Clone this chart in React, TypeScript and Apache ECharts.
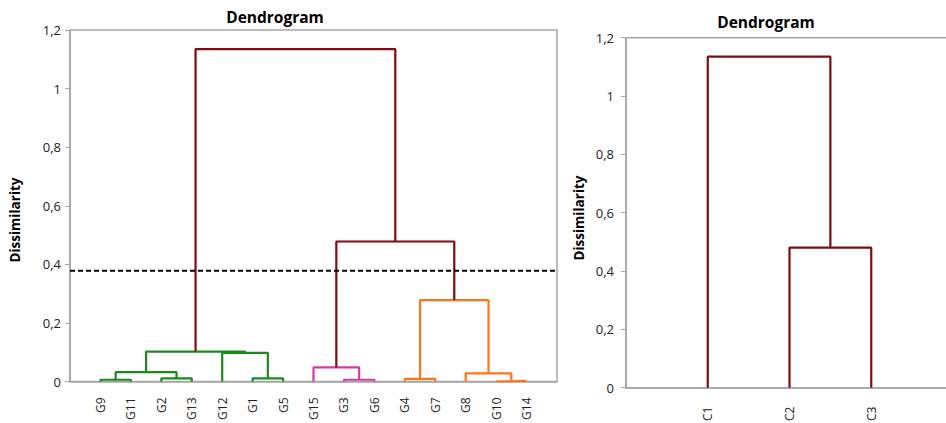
import React, { useEffect, useRef } from "react";
import * as echarts from "echarts";

// Left dendrogram (15 objects)
const leftLeaves = ["G9", "G11", "G2", "G13", "G12", "G1", "G5", "G15", "G3", "G6", "G4", "G7", "G8", "G10", "G14"];
// merge children: ids < 15 are leaves (by index), ids >= 15 are merges (15 + merge index)
const leftMergeA = [0, 2, 15, 5, 4, 17, 8, 7, 10, 13, 12, 23, 22, 20];
const leftMergeB = [1, 3, 16, 6, 18, 19, 9, 21, 11, 14, 24, 25, 26, 27];
const leftMergeHeight = [0.006, 0.011, 0.032, 0.011, 0.098, 0.102, 0.006, 0.048, 0.009, 0.002, 0.028, 0.278, 0.478, 1.135];
const leftMergeGroup = ["g", "g", "g", "g", "g", "g", "p", "p", "o", "o", "o", "o", "r", "r"];
const truncation = 0.378;

// Right dendrogram (3 classes)
const rightLeaves = ["C1", "C2", "C3"];
const rightMergeA = [1, 0];
const rightMergeB = [2, 3];
const rightMergeHeight = [0.48, 1.135];
const rightMergeGroup = ["r", "r"];

const yTicks = [0, 0.2, 0.4, 0.6, 0.8, 1, 1.2];

const groupColors: Record<string, string> = {
  g: "#1B8A1B",
  p: "#D33AA6",
  o: "#FF7417",
  r: "#7E0C12",
};

function buildSegments(nLeaves: number, A: number[], B: number[], H: number[], G: string[], axisIndex: number) {
  const xs: number[] = [];
  const hs: number[] = [];
  for (let i = 0; i < nLeaves; i++) {
    xs.push(i + 1);
    hs.push(0);
  }
  const series: any[] = [];
  for (let m = 0; m < A.length; m++) {
    const a = A[m];
    const b = B[m];
    const h = H[m];
    series.push({
      type: "line",
      xAxisIndex: axisIndex,
      yAxisIndex: axisIndex,
      symbol: "none",
      silent: true,
      lineStyle: { color: groupColors[G[m]], width: 2.2 },
      data: [
        [xs[a], hs[a]],
        [xs[a], h],
        [xs[b], h],
        [xs[b], hs[b]],
      ],
    });
    xs.push((xs[a] + xs[b]) / 2);
    hs.push(h);
  }
  return series;
}

const fmtY = (v: number) => String(+v.toFixed(1)).replace(".", ",");

export default function App() {
  const ref = useRef<HTMLDivElement>(null);
  useEffect(() => {
    if (!ref.current) return;
    const chart = echarts.init(ref.current, undefined, { renderer: "svg" });
    const font = "Open Sans";
    const leftSeries = buildSegments(leftLeaves.length, leftMergeA, leftMergeB, leftMergeHeight, leftMergeGroup, 0);
    const rightSeries = buildSegments(rightLeaves.length, rightMergeA, rightMergeB, rightMergeHeight, rightMergeGroup, 1);
    const yAxisCommon = {
      type: "value",
      min: yTicks[0],
      max: yTicks[yTicks.length - 1],
      interval: 0.2,
      axisLine: { show: true, lineStyle: { color: "#A6A6A6", width: 1.5 } },
      axisTick: { show: true, length: 5, lineStyle: { color: "#A6A6A6" } },
      splitLine: { show: false },
      axisLabel: { formatter: fmtY, color: "#222", fontFamily: font, fontSize: 13, margin: 9 },
    };
    const titleStyle = { fontFamily: font, fontWeight: "bold", fontSize: 15.5, color: "#000" };
    chart.setOption({
      animation: false,
      textStyle: { fontFamily: font },
      title: [
        { text: "Dendrogram", left: 270, top: 4, textAlign: "center", textStyle: titleStyle },
        { text: "Dendrogram", left: 761, top: 9, textAlign: "center", textStyle: titleStyle },
      ],
      grid: [
        { left: 70, top: 30, width: 487, height: 351.5, outerBoundsMode: "none", show: true, borderColor: "#A6A6A6", borderWidth: 1.5, backgroundColor: "transparent" },
        { left: 626, top: 37.7, width: 327, height: 350, outerBoundsMode: "none", show: true, borderColor: "#A6A6A6", borderWidth: 1.5, backgroundColor: "transparent" },
      ],
      xAxis: [
        {
          type: "value",
          gridIndex: 0,
          min: 0,
          max: leftLeaves.length + 1,
          interval: 1,
          axisLine: { show: true, lineStyle: { color: "#A6A6A6", width: 1.5 } },
          axisTick: { show: false },
          splitLine: { show: false },
          axisLabel: {
            rotate: 90,
            margin: 16,
            fontFamily: font,
            fontSize: 12,
            color: "#222",
            formatter: (v: number) => leftLeaves[Math.round(v) - 1] ?? "",
          },
        },
        {
          type: "value",
          gridIndex: 1,
          min: 0,
          max: rightLeaves.length + 1,
          interval: 1,
          axisLine: { show: true, lineStyle: { color: "#A6A6A6", width: 1.5 } },
          axisTick: { show: false },
          splitLine: { show: false },
          axisLabel: {
            rotate: 90,
            margin: 19,
            fontFamily: font,
            fontSize: 12,
            color: "#222",
            formatter: (v: number) => rightLeaves[Math.round(v) - 1] ?? "",
          },
        },
      ],
      yAxis: [
        { ...yAxisCommon, gridIndex: 0 },
        { ...yAxisCommon, gridIndex: 1, axisLabel: { ...yAxisCommon.axisLabel, margin: 12 } },
      ],
      graphic: [
        { type: "text", x: 15, y: 220, rotation: Math.PI / 2, style: { text: "Dissimilarity", fontFamily: font, fontWeight: "bold", fontSize: 13.5, fill: "#000", textAlign: "center", textVerticalAlign: "middle" } },
        { type: "text", x: 579, y: 218, rotation: Math.PI / 2, style: { text: "Dissimilarity", fontFamily: font, fontWeight: "bold", fontSize: 13.5, fill: "#000", textAlign: "center", textVerticalAlign: "middle" } },
      ],
      series: [
        ...leftSeries,
        {
          type: "line",
          xAxisIndex: 0,
          yAxisIndex: 0,
          symbol: "none",
          silent: true,
          lineStyle: { color: "#000", width: 2, type: [5, 3] },
          data: [
            [0, truncation],
            [leftLeaves.length + 1, truncation],
          ],
        },
        ...rightSeries,
      ],
    });
    return () => chart.dispose();
  }, []);
  return <div ref={ref} style={{ width: 946, height: 423, position: "absolute", left: 0, top: 0 }} />;
}
